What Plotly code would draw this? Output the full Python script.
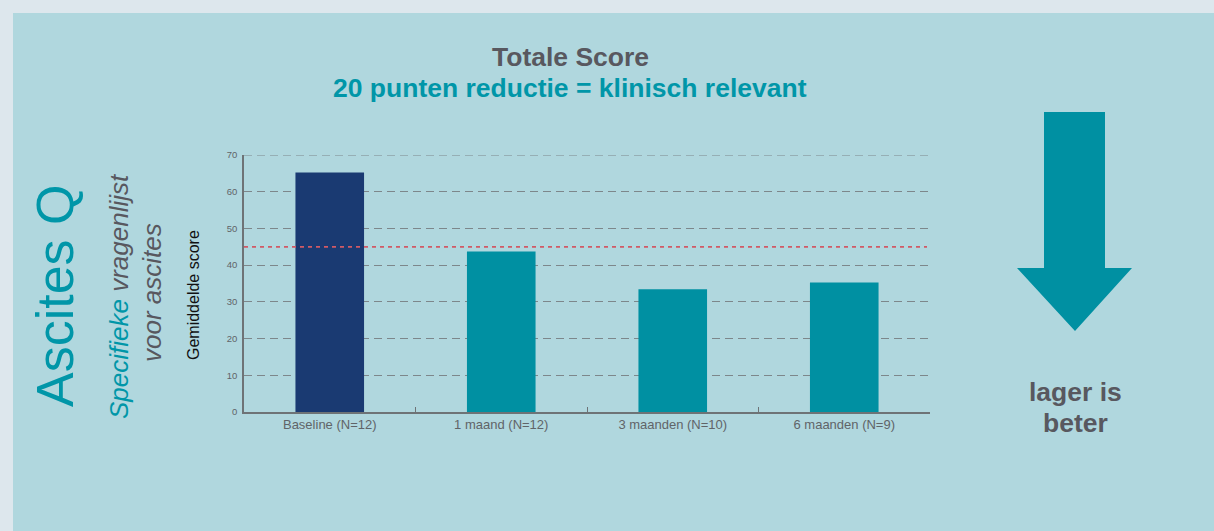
import plotly.graph_objects as go

# ---- data ----
categories = ["Baseline (N=12)", "1 maand (N=12)", "3 maanden (N=10)", "6 maanden (N=9)"]
scores = [65.2, 43.7, 33.4, 35.3]
bar_colors = ["#1a3a72", "#0090a2", "#0090a2", "#0090a2"]
threshold = 45
y_ticks = [0, 10, 20, 30, 40, 50, 60, 70]

W, H = 1214, 531
L, R, T, B = 244, 930, 155, 412  # plot area in pixels

def px(x):
    return (x - L) / (R - L)

def py(y):
    return (B - y) / (B - T)

TEAL = "#0096a8"
GRAY = "#58585f"
GRID = "#7d878b"
FONT = "Liberation Sans, Arial, Helvetica, sans-serif"

fig = go.Figure()
fig.add_trace(go.Bar(
    x=categories, y=scores, marker=dict(color=bar_colors, line=dict(width=0)),
    width=0.4, hoverinfo="x+y",
))

shapes = [
    # outer panel
    dict(type="rect", xref="paper", yref="paper", x0=px(13), x1=px(W + 5), y0=py(13), y1=py(H + 5),
         fillcolor="#b0d7de", line=dict(width=0), layer="below"),
    # top gridline (at the edge of the range)
    dict(type="line", xref="paper", yref="y", x0=0, x1=1, y0=y_ticks[-1], y1=y_ticks[-1],
         line=dict(color=GRID, width=1.2, dash="8px,5px"), layer="below"),
    # threshold line
    dict(type="line", xref="paper", yref="y", x0=0, x1=px(927), y0=threshold, y1=threshold,
         line=dict(color="#d05a66", width=1.8, dash="4px,4px"), layer="above"),
    # arrow
    dict(type="path", xref="paper", yref="paper",
         path=(f"M {px(1044)},{py(112)} L {px(1105)},{py(112)} L {px(1105)},{py(268)} "
               f"L {px(1132)},{py(268)} L {px(1075)},{py(331)} L {px(1017)},{py(268)} "
               f"L {px(1044)},{py(268)} Z"),
         fillcolor="#0090a2", line=dict(width=0), layer="above"),
]

annotations = [
    dict(text="<b>Totale Score</b>", x=px(570), y=py(57), xref="paper", yref="paper",
         showarrow=False, font=dict(size=26.5, color=GRAY, family=FONT), xanchor="center", yanchor="middle"),
    dict(text="<b>20 punten reductie = klinisch relevant</b>", x=px(570), y=py(88), xref="paper", yref="paper",
         showarrow=False, font=dict(size=26.5, color=TEAL, family=FONT), xanchor="center", yanchor="middle"),
    dict(text="<b>lager is</b>", x=px(1075), y=py(392), xref="paper", yref="paper",
         showarrow=False, font=dict(size=26.5, color=GRAY, family=FONT), xanchor="center", yanchor="middle"),
    dict(text="<b>beter</b>", x=px(1075), y=py(423), xref="paper", yref="paper",
         showarrow=False, font=dict(size=26.5, color=GRAY, family=FONT), xanchor="center", yanchor="middle"),
    dict(text="Ascites Q", x=px(55), y=py(296), xref="paper", yref="paper", textangle=-90,
         showarrow=False, font=dict(size=52, color=TEAL, family=FONT), xanchor="center", yanchor="middle"),
    dict(text=f"<i><span style='color:{TEAL}'>Specifieke</span> vragenlijst</i>", x=px(119), y=py(296),
         xref="paper", yref="paper", textangle=-90,
         showarrow=False, font=dict(size=26, color=GRAY, family=FONT), xanchor="center", yanchor="middle"),
    dict(text="<i>voor ascites</i>", x=px(152), y=py(293), xref="paper", yref="paper", textangle=-90,
         showarrow=False, font=dict(size=26, color=GRAY, family=FONT), xanchor="center", yanchor="middle"),
    dict(text="Gemiddelde score", x=px(193), y=py(295), xref="paper", yref="paper", textangle=-90,
         showarrow=False, font=dict(size=16, color="#111111", family=FONT), xanchor="center", yanchor="middle"),
]

fig.update_layout(
    width=W, height=H,
    margin=dict(l=L, r=W - R, t=T, b=H - B, pad=0),
    paper_bgcolor="#dde7ed",
    plot_bgcolor="rgba(0,0,0,0)",
    showlegend=False,
    shapes=shapes,
    annotations=annotations,
    font=dict(family=FONT),
    bargap=0.6,
)
fig.update_xaxes(
    showline=True, linecolor="#6e7376", linewidth=1.5,
    ticks="inside", tickson="boundaries", ticklen=5, tickcolor="#6e7376", tickwidth=1,
    tickfont=dict(size=13, color="#606468", family=FONT),
    showgrid=False, zeroline=False, fixedrange=True,
)
fig.update_yaxes(
    range=[0, 70], tickvals=y_ticks, ticktext=[str(v) for v in y_ticks],
    showline=True, linecolor="#6e7376", linewidth=1.5,
    ticks="", ticklabelstandoff=3,
    tickfont=dict(size=9.5, color="#606468", family=FONT),
    showgrid=True, gridcolor=GRID, gridwidth=1.2, griddash="8px,5px",
    zeroline=False, fixedrange=True,
)

fig.write_html("out.html", config={"displayModeBar": False},
               post_script="document.body.style.margin='0';document.body.style.overflow='hidden';")
